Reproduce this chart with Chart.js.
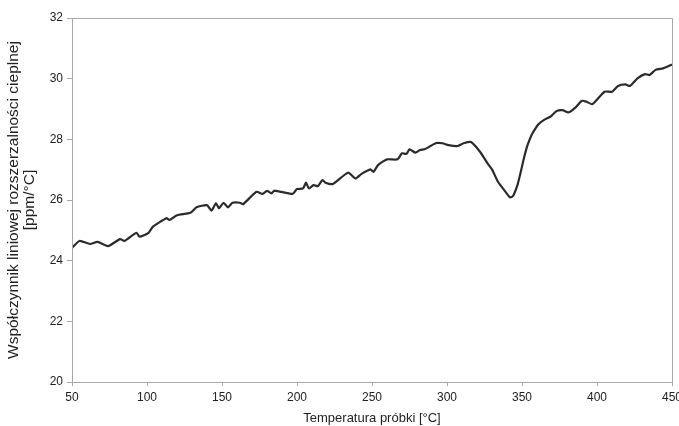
<!DOCTYPE html>
<html>
<head>
<meta charset="utf-8">
<script src="https://cdn.jsdelivr.net/npm/chart.js@4"></script>
<style>
  html, body { margin: 0; padding: 0; background: #fff; }
  #wrap { width: 679px; height: 426px; }
</style>
</head>
<body>
<div id="wrap"><canvas id="myChart" width="679" height="426"></canvas></div>
<script>
// temperature of sample [°C]
var temps = [50, 55, 62, 67, 74, 82, 85, 93, 95, 101, 104, 113, 115, 120, 129, 133, 140, 143, 146, 148,
    151, 154, 157, 162, 164, 173, 177, 180, 183, 185, 197, 200, 204, 206, 208, 211, 214, 217, 219, 224,
    234, 239, 243, 249, 251, 254, 260, 267, 270, 273, 275, 279, 282, 285, 289, 293, 297, 301, 307, 311,
    316, 322, 327, 330, 334, 339, 342, 344, 347, 349, 351, 353, 355, 357, 361, 365, 369, 373, 377, 381,
    385, 390, 393, 397, 405, 410, 414, 419, 422, 427, 432, 435, 439, 444, 447, 450];
// linear thermal expansion coefficient [ppm/°C]
var cte = [24.42, 24.65, 24.55, 24.62, 24.48, 24.71, 24.65, 24.92, 24.79, 24.92, 25.12, 25.40, 25.34, 25.50, 25.58, 25.76, 25.83, 25.65, 25.89, 25.73,
    25.91, 25.76, 25.91, 25.91, 25.86, 26.27, 26.20, 26.30, 26.22, 26.31, 26.20, 26.36, 26.38, 26.57, 26.38, 26.49, 26.46, 26.66, 26.57, 26.53,
    26.90, 26.71, 26.86, 27.01, 26.93, 27.15, 27.34, 27.34, 27.54, 27.52, 27.67, 27.56, 27.65, 27.67, 27.78, 27.88, 27.87, 27.81, 27.78, 27.87,
    27.91, 27.59, 27.21, 27.01, 26.60, 26.27, 26.09, 26.13, 26.50, 26.89, 27.32, 27.70, 27.98, 28.20, 28.50, 28.65, 28.75, 28.93, 28.96, 28.89,
    29.02, 29.27, 29.24, 29.16, 29.57, 29.57, 29.76, 29.81, 29.76, 30.01, 30.15, 30.12, 30.29, 30.34, 30.40, 30.47];

var x_ticks = [50, 100, 150, 200, 250, 300, 350, 400, 450];
var y_ticks = [20, 22, 24, 26, 28, 30, 32];

var axis_color = '#a8a8a8';
var text_color = '#222';

var points = temps.map(function (t, i) { return { x: t, y: cte[i] }; });

// draws the grey frame around the plot area (top and right sides)
var frame = {
    id: 'frame',
    afterDatasetsDraw: function (chart) {
        var a = chart.chartArea;
        var c = chart.ctx;
        c.save();
        c.strokeStyle = axis_color;
        c.lineWidth = 1;
        c.strokeRect(a.left + 0.5, a.top + 0.5, a.right - a.left, a.bottom - a.top);
        c.restore();
    }
};

const ctx = document.getElementById('myChart').getContext('2d');
const myChart = new Chart(ctx, {
    type: 'line',
    data: {
        datasets: [{
            data: points,
            borderColor: '#2b2b2b',
            borderWidth: 2.2,
            pointRadius: 0,
            tension: 0.2,
            fill: false
        }]
    },
    options: {
        responsive: false,
        animation: false,
        layout: { padding: { top: 18, right: 7, left: 0, bottom: 0 } },
        plugins: { legend: { display: false }, tooltip: { enabled: false } },
        scales: {
            x: {
                type: 'linear',
                min: 50,
                max: 450,
                afterBuildTicks: function (scale) {
                    scale.ticks = x_ticks.map(function (v) { return { value: v }; });
                },
                afterFit: function (scale) {
                    scale.height = 44;
                    scale.paddingRight = 0;
                },
                grid: { drawOnChartArea: false, color: axis_color, tickLength: 4 },
                border: { color: axis_color },
                ticks: { color: text_color, font: { family: 'Liberation Sans', size: 12 }, padding: 4, maxRotation: 0 },
                title: {
                    display: true,
                    text: 'Temperatura próbki [°C]',
                    color: text_color,
                    font: { family: 'Liberation Sans', size: 13, lineHeight: 1.15 },
                    padding: { top: 0, bottom: 0 }
                }
            },
            y: {
                min: 20,
                max: 32,
                afterBuildTicks: function (scale) {
                    scale.ticks = y_ticks.map(function (v) { return { value: v }; });
                },
                afterFit: function (scale) {
                    scale.width = 72;
                },
                grid: { drawOnChartArea: false, color: axis_color, tickLength: 5 },
                border: { color: axis_color },
                ticks: { color: text_color, font: { family: 'Liberation Sans', size: 12 }, padding: 4 },
                title: {
                    display: true,
                    text: ['Współczynnik liniowej rozszerzalności cieplnej', '[ppm/°C]'],
                    color: text_color,
                    font: { family: 'Liberation Sans', size: 15.5, lineHeight: 1 },
                    padding: { top: 6, bottom: 0 }
                }
            }
        }
    },
    plugins: [frame]
});
</script>
</body>
</html>
